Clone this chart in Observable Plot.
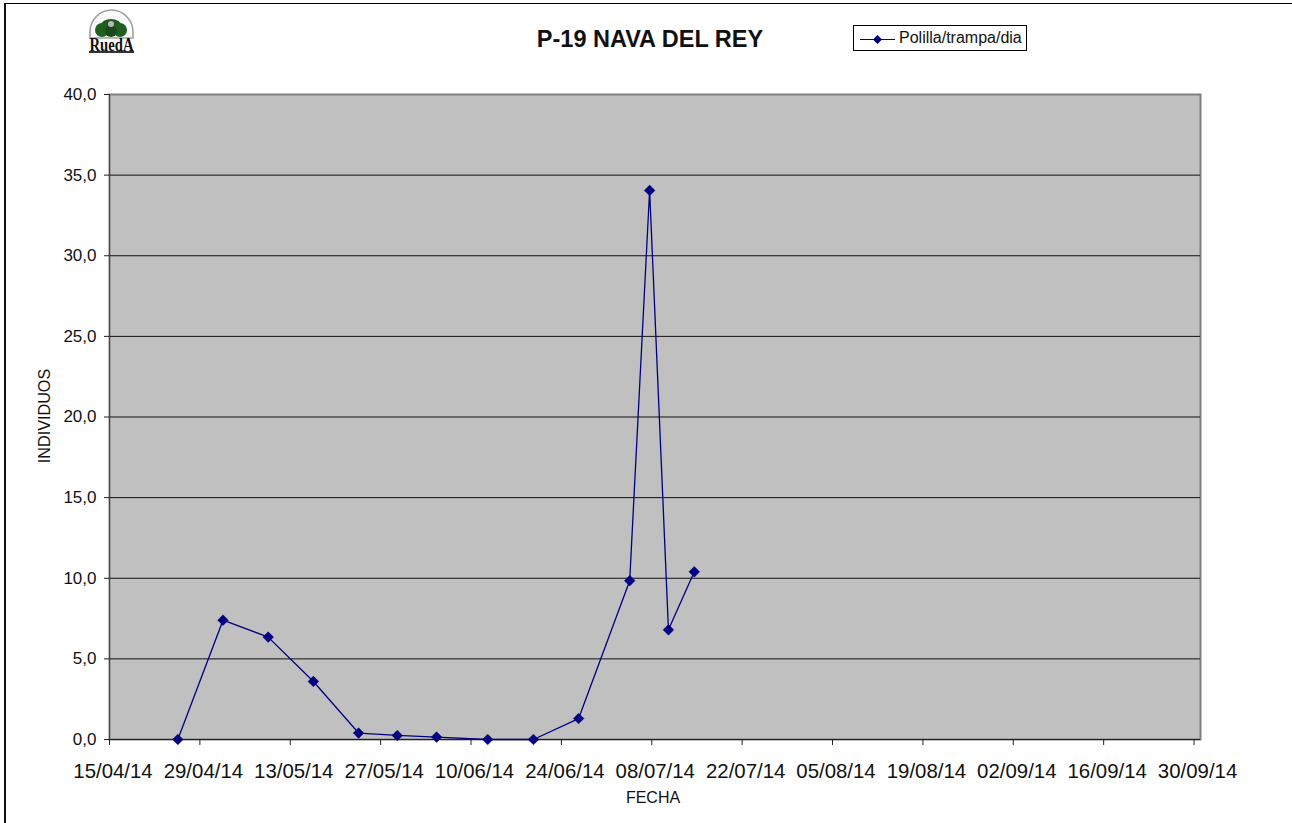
<!DOCTYPE html>
<html><head><meta charset="utf-8">
<script src="https://cdn.jsdelivr.net/npm/d3@7"></script>
<script src="https://cdn.jsdelivr.net/npm/@observablehq/plot@0.6"></script>
<style>
html,body{margin:0;padding:0;background:#fff;overflow:hidden}
#wrap{position:relative;width:1292px;height:823px;font-family:"Liberation Sans",Arial,sans-serif;color:#000}
#frame{position:absolute;left:4px;top:3px;width:1288px;height:820px;border-left:2px solid #111;border-top:1.5px solid #000;box-sizing:border-box}
#title{position:absolute;left:450px;width:400px;top:26px;text-align:center;font-weight:bold;font-size:23.5px;line-height:26px;color:#111}
#legend{position:absolute;left:853px;top:25px;width:174px;height:26px;border:1px solid #000;box-sizing:border-box;background:#fff;font-size:16px;color:#111}
#legend svg{position:absolute;left:0;top:0}
#legend span{position:absolute;left:45px;top:4px;line-height:16px;white-space:nowrap}
#logo{position:absolute;left:85px;top:8px;overflow:visible}
svg.chart{position:absolute;left:0;top:0}
</style></head><body>
<div id="wrap"></div>
<script>
const dates = ["2014-04-25T14:00","2014-05-02T14:00","2014-05-09T14:00","2014-05-16T14:00","2014-05-23T14:00","2014-05-29T14:00","2014-06-04T16:00","2014-06-12T14:00","2014-06-19T16:00","2014-06-26T16:00","2014-07-04T14:00","2014-07-07T16:00","2014-07-10T14:00","2014-07-14T14:00"];
const values = [0, 7.4, 6.35, 3.6, 0.4, 0.25, 0.15, 0, 0, 1.3, 9.85, 34.05, 6.8, 10.4];
const yTicks = [0,5,10,15,20,25,30,35,40];
const xTickLabels = ["2014-04-15","2014-04-29","2014-05-13","2014-05-27","2014-06-10","2014-06-24","2014-07-08","2014-07-22","2014-08-05","2014-08-19","2014-09-02","2014-09-16","2014-09-30"];
const navy = "#000080";

const parse = s => new Date(s + (s.length > 10 ? "Z" : "T00:00Z"));
const data = dates.map((d,i) => ({date: parse(d), value: values[i]}));
const xt = xTickLabels.map(parse);
const fmtX = d3.utcFormat("%d/%m/%y");
const fmtY = v => v.toFixed(1).replace(".", ",");

const chart = Plot.plot({
  width: 1292, height: 823,
  marginLeft: 109, marginRight: 92, marginTop: 94, marginBottom: 84,
  style: {fontFamily: '"Liberation Sans",Arial,sans-serif', background: "transparent", overflow: "visible"},
  x: {type: "utc", domain: [parse("2014-04-15"), parse("2014-10-01")], label: null},
  y: {type: "linear", domain: [0,40], label: null},
  marks: [
    Plot.frame({fill: "#c0c0c0", stroke: "#808080", strokeWidth: 2}),
    Plot.ruleY(yTicks.filter(v => v > 0 && v < 40), {stroke: "#111", strokeWidth: 1}),
    Plot.ruleY([0], {stroke: "#222", strokeWidth: 1.2}),
    Plot.ruleX([parse("2014-04-15")], {stroke: "#444", strokeWidth: 1}),
    Plot.axisX({ticks: xt, tickFormat: null, tickSize: 6, text: null, stroke: "#222", label: null}),
    Plot.text(xt, {x: d => d, frameAnchor: "bottom", dx: 3.5, dy: 38, text: fmtX, fontSize: 20.4, fill: "#111"}),
    Plot.axisY({ticks: yTicks, tickFormat: fmtY, tickSize: 5, tickPadding: 8, fontSize: 17, stroke: "#222", fill: "#111", label: null}),
    Plot.line(data, {x: "date", y: "value", stroke: navy, strokeWidth: 1.3}),
    Plot.dot(data, {x: "date", y: "value", symbol: "diamond2", r: 4.8, fill: navy, stroke: navy, strokeWidth: 0.5}),
    Plot.text(["FECHA"], {frameAnchor: "bottom", dx: -2, dy: 63, text: d => d, fontSize: 16, fill: "#111"}),
    Plot.text(["INDIVIDUOS"], {frameAnchor: "left", textAnchor: "middle", dx: -65, dy: -1, rotate: -90, text: d => d, fontSize: 16.2, fill: "#111"})
  ]
});
chart.classList.add("chart");

const wrap = document.getElementById("wrap");
wrap.appendChild(chart);
wrap.insertAdjacentHTML("beforeend", `
<div id="frame"></div>
<div id="title">P-19 NAVA DEL REY</div>
<div id="legend"><svg width="44" height="24"><line x1="6" x2="41" y1="13.5" y2="13.5" stroke="${navy}" stroke-width="1.2"/><path d="M23.5 9 L28 13.5 L23.5 18 L19 13.5Z" fill="${navy}"/></svg><span>Polilla/trampa/dia</span></div>
<svg id="logo" width="54" height="50" viewBox="0 0 54 50">
  <path d="M5 30 L5 24 A21.5 22 0 0 1 48 24 L48 30Z" fill="#fafafa" stroke="#a0a0a0" stroke-width="1.6"/>
  <ellipse cx="26" cy="17" rx="10" ry="6" fill="#1f5a1f"/>
  <circle cx="17" cy="22" r="7" fill="#215f21"/><circle cx="35" cy="22" r="7" fill="#215f21"/><circle cx="26" cy="23" r="6" fill="#174a17"/>
  <circle cx="26" cy="16" r="3" fill="#b8b8b8"/>
  <text transform="translate(26.5,43) scale(1,1.35)" text-anchor="middle" font-family="Liberation Serif,serif" font-size="14.7" font-weight="bold" fill="#111">RuedA</text>
  <rect x="4" y="43" width="45" height="2" fill="#333"/>
</svg>`);
</script>
</body></html>
